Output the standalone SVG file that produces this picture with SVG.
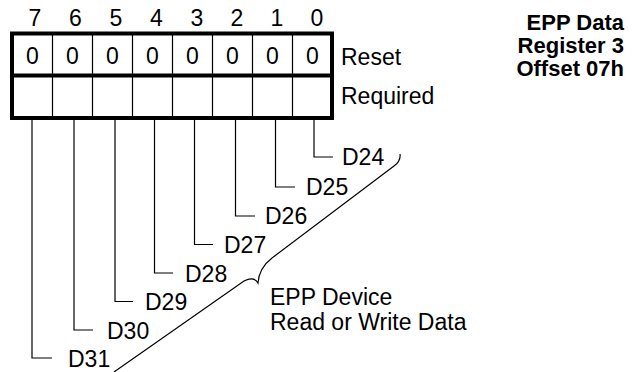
<svg xmlns="http://www.w3.org/2000/svg" width="632" height="372" viewBox="0 0 632 372">
<style>
text{font-family:"Liberation Sans",Arial,Helvetica,sans-serif;font-size:23px;fill:#000}
.c{text-anchor:middle}
.t{font-weight:bold;font-size:22px;text-anchor:end}
.thick{fill:none;stroke:#000;stroke-width:4}
.thin{stroke:#000;stroke-width:1.2;fill:none}
.ln{stroke:#000;stroke-width:1.2;fill:none}
</style>
<g id="title">
<text class="t" x="624" y="30">EPP Data</text>
<text class="t" x="624" y="53">Register 3</text>
<text class="t" x="624" y="76">Offset 07h</text>
</g>
<g id="bits">
<text class="c" x="35" y="26">7</text>
<text class="c" x="75.5" y="26">6</text>
<text class="c" x="116" y="26">5</text>
<text class="c" x="156.5" y="26">4</text>
<text class="c" x="197" y="26">3</text>
<text class="c" x="237" y="26">2</text>
<text class="c" x="277" y="26">1</text>
<text class="c" x="317" y="26">0</text>
</g>
<g id="register">
<rect class="thick" x="12" y="33.5" width="320" height="84.5"/>
<line class="thick" x1="12" y1="75.5" x2="332" y2="75.5"/>
<path class="thin" d="M52.5 33.5V118M92.5 33.5V118M132.5 33.5V118M172.5 33.5V118M212.5 33.5V118M252.5 33.5V118M292.5 33.5V118"/>
<text class="c" x="32.5" y="64">0</text>
<text class="c" x="72.5" y="64">0</text>
<text class="c" x="112.5" y="64">0</text>
<text class="c" x="152.5" y="64">0</text>
<text class="c" x="192.5" y="64">0</text>
<text class="c" x="232.5" y="64">0</text>
<text class="c" x="272.5" y="64">0</text>
<text class="c" x="312.5" y="64">0</text>
<text x="341" y="65">Reset</text>
<text x="341" y="104">Required</text>
</g>
<g id="connectors">
<path class="ln" d="M314 120V157H333"/>
<path class="ln" d="M275.5 120V187H295"/>
<path class="ln" d="M235.5 120V216H255"/>
<path class="ln" d="M194.5 120V244.5H213"/>
<path class="ln" d="M154.5 120V273H173"/>
<path class="ln" d="M115 120V301.5H133"/>
<path class="ln" d="M74 120V330H93"/>
<path class="ln" d="M32 120V358H52"/>
<path class="ln" d="M400 154Q401 161 394 166L272 258Q259 268 258 283Q254 276 244 281L114 372"/>
</g>
<g id="labels">
<text x="342" y="165">D24</text>
<text x="306" y="195">D25</text>
<text x="265" y="224">D26</text>
<text x="224" y="253">D27</text>
<text x="185" y="282">D28</text>
<text x="145" y="310">D29</text>
<text x="107" y="339">D30</text>
<text x="68" y="367">D31</text>
</g>
<g id="brace-label">
<text x="270" y="305">EPP Device</text>
<text x="270" y="330">Read or Write Data</text>
</g>
</svg>
